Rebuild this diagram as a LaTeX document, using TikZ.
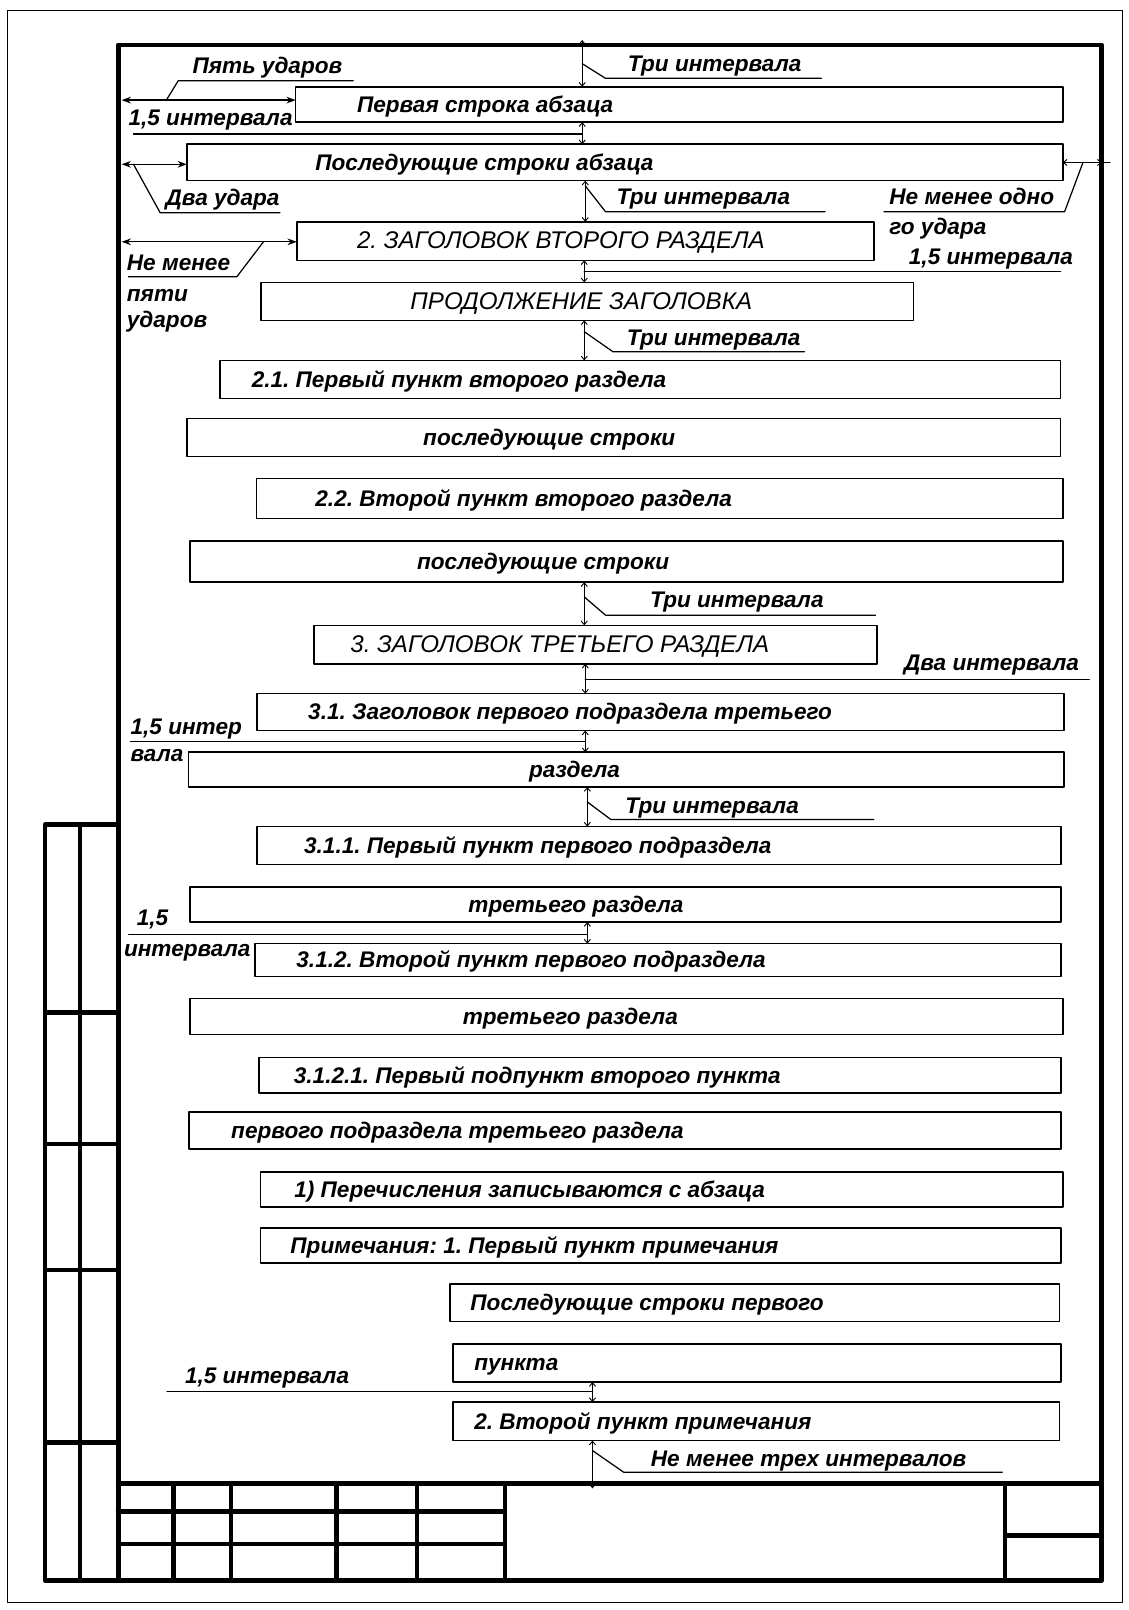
\documentclass[tikz,border=0pt]{standalone}
\usepackage{fontspec}
\setmainfont{Liberation Sans}
\usetikzlibrary{arrows.meta,calc}
\frenchspacing

\begin{document}
\begin{tikzpicture}[x=1pt,y=-1pt,line cap=round,line join=round]
\path[fill=white] (0,0) rectangle (1099,1568);
\useasboundingbox (0,0) rectangle (1099,1568);
\tikzset{sheet/.style={draw,line width=4.8pt,inner sep=0pt,outer sep=0pt},stamp/.style={line width=4.4pt},box/.style={draw,line width=1.5pt,inner sep=0pt,outer sep=0pt},txt/.style={anchor=base west,yshift=-7.5pt,inner sep=0pt,font=\fontsize{22}{26}\selectfont\bfseries\itshape},headtxt/.style={txt,font=\fontsize{23.5}{26}\selectfont\itshape},lbl/.style={anchor=base,yshift=-7.5pt,inner sep=0pt,font=\fontsize{22}{26}\selectfont\bfseries\itshape},dim/.style={line width=0.9pt,{Straight Barb[length=3.5pt,width=6pt]}-{Straight Barb[length=3.5pt,width=6pt]}},lead/.style={line width=1.2pt},push/.style={line width=1.3pt,{Stealth[length=9pt,width=6.5pt]}-{Stealth[length=9pt,width=6.5pt]}}}
% sheet, side strip and stamp
\draw[line width=1pt] (7,10) rectangle (1093,1561);
\node[sheet,minimum width=958pt,minimum height=1495.6pt] (frame) at (594,791.6) {};
\draw[stamp] (115,803) -- (44,803) -- (44,1539.4) -- (115,1539.4); \draw[stamp] (78,803) -- (78,1539.4);
\draw[stamp] (44,986) -- (115,986) (44,1114) -- (115,1114) (44,1237) -- (115,1237) (44,1405) -- (115,1405);
\draw[stamp] (115,1445) -- (1073,1445); \draw[stamp] (115,1472) -- (491.6,1472) (115,1503.6) -- (491.6,1503.6);
\draw[stamp] (169,1445) -- (169,1539.4) (225,1445) -- (225,1539.4) (327.5,1445) -- (327.5,1539.4) (406,1445) -- (406,1539.4) (491.6,1445) -- (491.6,1539.4);
\draw[stamp] (979,1445) -- (979,1539.4) (979,1495.5) -- (1073,1495.5);
% text lines
\node[box,minimum width=747pt,minimum height=34.5pt] (b1) at (661.5,101.75) {}; \node[txt] (t1) at (347.5,101.75) {Первая строка абзаца};
\node[box,minimum width=853pt,minimum height=35.5pt] (b2) at (608.5,158.25) {}; \node[txt] (t2) at (307,158.25) {Последующие строки абзаца};
\node[box,minimum width=562pt,minimum height=37.5pt] (b3) at (570,234.75) {}; \node[headtxt] (t3) at (347.5,234.75) {2. ЗАГОЛОВОК ВТОРОГО РАЗДЕЛА};
\node[box,minimum width=635.5pt,minimum height=37pt] (b4) at (571.75,293.5) {}; \node[headtxt] (t4) at (399.5,293.5) {ПРОДОЛЖЕНИЕ ЗАГОЛОВКА};
\node[box,minimum width=819pt,minimum height=37pt] (b5) at (623.5,369.5) {}; \node[txt] (t5) at (245,369.5) {2.1. Первый пункт второго раздела};
\node[box,minimum width=851pt,minimum height=37pt] (b6) at (607.5,426) {}; \node[txt] (t6) at (412,426) {последующие строки};
\node[box,minimum width=785pt,minimum height=39pt] (b7) at (642.5,485.5) {}; \node[txt] (t7) at (307,485.5) {2.2. Второй пункт второго раздела};
\node[box,minimum width=850pt,minimum height=40pt] (b8) at (610,547) {}; \node[txt] (t8) at (406,547) {последующие строки};
\node[box,minimum width=548pt,minimum height=37.5pt] (b9) at (580,627.75) {}; \node[headtxt] (t9) at (341,627.75) {3. ЗАГОЛОВОК ТРЕТЬЕГО РАЗДЕЛА};
\node[box,minimum width=785.5pt,minimum height=36pt] (b10) at (643.25,693.5) {}; \node[txt] (t10) at (300,693.5) {3.1. Заголовок первого подраздела третьего};
\node[box,minimum width=852.5pt,minimum height=34pt] (b11) at (609.75,749.5) {}; \node[txt] (t11) at (515,749.5) {раздела};
\node[box,minimum width=783pt,minimum height=37pt] (b12) at (642,823.5) {}; \node[txt] (t12) at (296,823.5) {3.1.1. Первый пункт первого подраздела};
\node[box,minimum width=848.5pt,minimum height=34pt] (b13) at (609.25,881) {}; \node[txt] (t13) at (456,881) {третьего раздела};
\node[box,minimum width=785pt,minimum height=32pt] (b14) at (641,935) {}; \node[txt] (t14) at (288.5,935) {3.1.2. Второй пункт первого подраздела};
\node[box,minimum width=850pt,minimum height=35pt] (b15) at (610,990) {}; \node[txt] (t15) at (450.5,990) {третьего раздела};
\node[box,minimum width=781.5pt,minimum height=34.5pt] (b16) at (642.75,1047.25) {}; \node[txt] (t16) at (286,1047.25) {3.1.2.1. Первый подпункт второго пункта};
\node[box,minimum width=849.5pt,minimum height=36pt] (b17) at (608.75,1101) {}; \node[txt] (t17) at (225,1101) {первого подраздела третьего раздела};
\node[box,minimum width=781.5pt,minimum height=34pt] (b18) at (644.25,1158.5) {}; \node[txt] (t18) at (286.5,1158.5) {1) Перечисления записываются с абзаца};
\node[box,minimum width=780pt,minimum height=34pt] (b19) at (643.5,1213) {}; \node[txt] (t19) at (282.7,1213) {Примечания: 1. Первый пункт примечания};
\node[box,minimum width=593.5pt,minimum height=36.5pt] (b20) at (735.25,1268.75) {}; \node[txt] (t20) at (458,1268.75) {Последующие строки первого};
\node[box,minimum width=592.5pt,minimum height=37pt] (b21) at (737.25,1327.5) {}; \node[txt] (t21) at (461.7,1327.5) {пункта};
\node[box,minimum width=591pt,minimum height=37.5pt] (b22) at (736.5,1384.25) {}; \node[txt] (t22) at (461.7,1384.25) {2. Второй пункт примечания};
% dimension columns and arrow feet
\coordinate (cA) at (567,0); \coordinate (cB) at (569,0); \coordinate (cC) at (570,0); \coordinate (cD) at (572,0); \coordinate (cE) at (577,0);
\coordinate (top) at (567,39); \coordinate (foot) at (577,1449.5); \coordinate (edgeR) at (1073,0);
\coordinate (h1) at (118.5,97.5); \coordinate (h2) at (118.5,160); \coordinate (h3) at (118.5,235.5);
% labels
\node[lbl] (l1) at (696,62) {Три интервала}; \node[txt] (l2) at (125,115) {1,5 интервала};
\node[lbl] (l3) at (260.5,64) {Пять ударов}; \node[lbl] (l4) at (216.8,193) {Два удара};
\node[lbl] (l5) at (685,192) {Три интервала};
\node[txt] (l6a) at (866,192) {Не менее одно}; \node[txt] (l6b) at (866,221) {го удара};
\node[txt] (l7a) at (123.4,256) {Не менее}; \node[txt] (l7b) at (123.4,286) {пяти}; \node[txt] (l7c) at (123.4,311.6) {ударов};
\node[txt] (l8) at (885,250) {1,5 интервала}; \node[lbl] (l9) at (695,328.6) {Три интервала};
\node[lbl] (l10) at (717.6,584.6) {Три интервала}; \node[lbl] (l11) at (965.6,645.6) {Два интервала};
\node[txt] (l12a) at (127,708) {1,5 интер}; \node[txt] (l12b) at (127,734) {вала};
\node[lbl] (l13) at (693.5,784.3) {Три интервала};
\node[lbl] (l14a) at (148.6,893.7) {1,5}; \node[txt] (l14b) at (120.6,924) {интервала};
\node[txt] (l15) at (180,1339.6) {1,5 интервала}; \node[lbl] (l16) at (787.5,1420.8) {Не менее трех интервалов};
% indents
\draw[push] (h1) -- (h1 -| b1.west); \draw[push] (h2) -- (h2 -| b2.west); \draw[push] (h3) -- (h3 -| b3.west);
\draw[lead] (162,97.5) -- (173.6,78.6) -- (344,78.6); \draw[lead] (130,160) -- (156,207.2) -- (272.8,207.2); \draw[lead] (256.6,235.5) -- (230.6,269.6) -- (125,269.6);
\draw[dim] (b2.east) -- (edgeR |- b2.east); \draw[lead] (edgeR |- b2.east) -- ++(8,0); \draw[lead] (1054.8,158) -- (1036.8,206.2) -- (861,206.2);
% spacings
\draw[dim] (top) -- (top |- b1.north); \draw[lead] (567,62) -- (589.7,76.3) -- (800,76.3);
\draw[dim] (b1.south -| cA) -- (b2.north -| cA); \draw[lead] (130,130.6) -- (567,130.6);
\draw[dim] (b2.south -| cC) -- (b3.north -| cC); \draw[lead] (570,181) -- (589.7,206.2) -- (803.4,206.2);
\draw[dim] (b3.south -| cB) -- (b4.north -| cB); \draw[lead] (569,264.7) -- (1033,264.7);
\draw[dim] (b4.south -| cB) -- (b5.north -| cB); \draw[lead] (569,323) -- (597,342.6) -- (783.6,342.6);
\draw[dim] (b8.south -| cB) -- (b9.north -| cB); \draw[lead] (569,581.3) -- (589.8,599.2) -- (852.7,599.2);
\draw[dim] (b9.south -| cC) -- (b10.north -| cC); \draw[lead] (570,661.8) -- (1061,661.8);
\draw[dim] (b10.south -| cC) -- (b11.north -| cC); \draw[lead] (127,722) -- (570,722);
\draw[dim] (b11.south -| cD) -- (b12.north -| cD); \draw[lead] (572,781) -- (595,798.2) -- (851,798.2);
\draw[dim] (b13.south -| cD) -- (b14.north -| cD); \draw[lead] (125.3,910) -- (572,910);
\draw[dim] (b21.south -| cE) -- (b22.north -| cE); \draw[lead] (162.7,1354.9) -- (577,1354.9);
\draw[dim] (b22.south -| foot) -- (foot); \draw[lead] (577,1412.7) -- (607.4,1433.8) -- (976.2,1433.8);
\end{tikzpicture}
\end{document}
